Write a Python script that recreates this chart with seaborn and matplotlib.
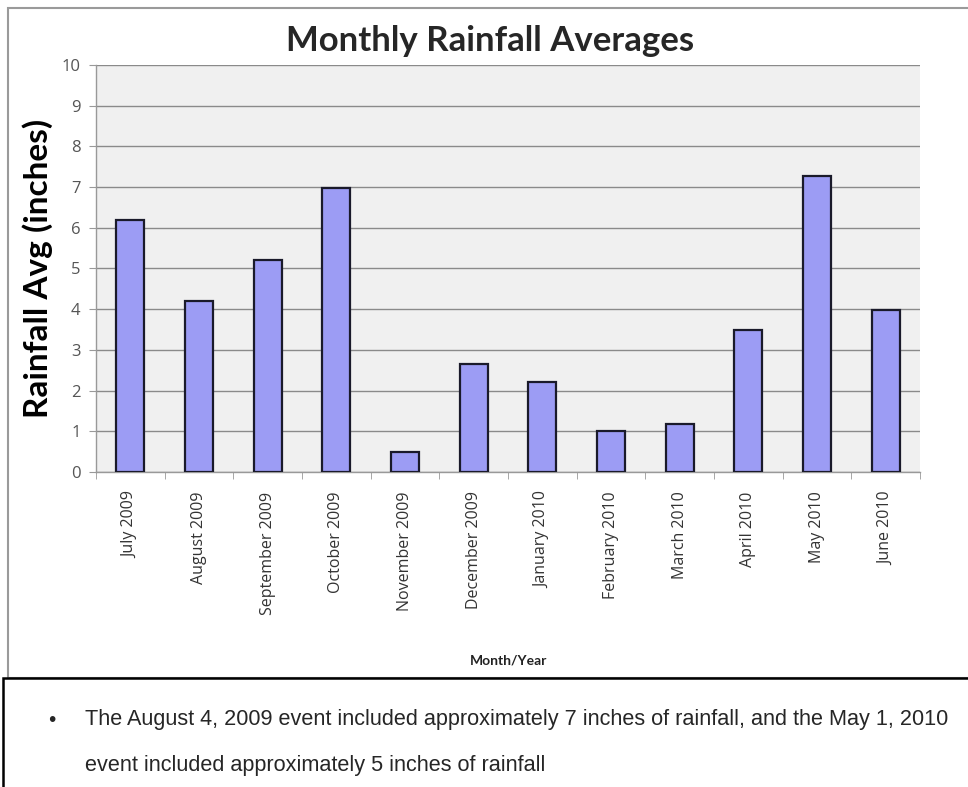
import matplotlib
matplotlib.use('Agg')
import matplotlib.pyplot as plt
import seaborn as sns
import pandas as pd
from matplotlib.patches import Rectangle

months = ['July 2009', 'August 2009', 'September 2009', 'October 2009',
          'November 2009', 'December 2009', 'January 2010', 'February 2010',
          'March 2010', 'April 2010', 'May 2010', 'June 2010']
rainfall = [6.2, 4.2, 5.2, 6.97, 0.49, 2.66, 2.2, 1.01, 1.17, 3.48, 7.28, 3.98]
y_ticks = list(range(0, 11))

df = pd.DataFrame({'month': months, 'rain': rainfall})

sns.set_style('white')
plt.rcParams['font.family'] = ['Open Sans', 'DejaVu Sans']

fig = plt.figure(figsize=(9.68, 7.87), dpi=100)
ax = fig.add_axes([0.0992, 0.4003, 0.8512, 0.5171])
ax.set_facecolor('#f0f0f0')

sns.barplot(data=df, x='month', y='rain', color='#9c9cf4', width=0.41,
            edgecolor='#1a1a2a', linewidth=1.6, saturation=1, ax=ax, zorder=3)

ax.set_ylim(0, 10)
ax.set_xlim(-0.5, len(months) - 0.5)
ax.set_yticks(y_ticks)
ax.yaxis.grid(True, color='#8a8a8a', linewidth=1)
ax.set_axisbelow(True)
for b in ax.patches:
    b.set_zorder(3)

ax.tick_params(axis='y', labelsize=12, labelcolor='#555555', length=5,
               color='#999999', direction='out', left=True, pad=6)
ax.tick_params(axis='x', which='major', length=0, labelsize=11.5,
               labelcolor='#333333', pad=14)
ax.set_xticks([i + 0.5 for i in range(-1, len(months))], minor=True)
ax.tick_params(axis='x', which='minor', length=5, color='#999999',
               direction='out', bottom=True)
plt.setp(ax.get_xticklabels(), rotation=90)

for s in ['top', 'right']:
    ax.spines[s].set_visible(False)
for s in ['left', 'bottom']:
    ax.spines[s].set_color('#999999')
    ax.spines[s].set_linewidth(1)

ax.set_xlabel('')
ax.set_ylabel('Rainfall Avg (inches)', fontsize=24, fontweight='bold',
              family=['Lato', 'DejaVu Sans'], color='black', labelpad=6)
fig.text(0.506, 0.948, 'Monthly Rainfall Averages', fontsize=25,
         fontweight='bold', family=['Lato', 'DejaVu Sans'], ha='center', va='center')
fig.text(0.525, 0.161, 'Month/Year', fontsize=10, fontweight='bold',
         family=['Lato', 'DejaVu Sans'], ha='center', va='center', color='#222222')

# chart frame and note box
fig.patches.append(Rectangle((8 / 968, 109 / 787), 1.1, 670 / 787,
                             transform=fig.transFigure, fill=False,
                             edgecolor='#9a9a9a', linewidth=1.5))
fig.patches.append(Rectangle((3 / 968, -0.1), 1.1, 0.1 + 109 / 787,
                             transform=fig.transFigure, facecolor='white',
                             edgecolor='black', linewidth=1.8))

note_font = ['Liberation Sans', 'DejaVu Sans']
fig.text(48 / 968, 1 - 720 / 787, '\u2022', fontsize=15, family=note_font, va='center')
fig.text(85 / 968, 1 - 720 / 787,
         'The August 4, 2009 event included approximately 7 inches of rainfall, and the May 1, 2010',
         fontsize=15.6, family=note_font, va='center')
fig.text(85 / 968, 1 - 765 / 787, 'event included approximately 5 inches of rainfall',
         fontsize=15.6, family=note_font, va='center')

fig.savefig('out.png', dpi=100)
